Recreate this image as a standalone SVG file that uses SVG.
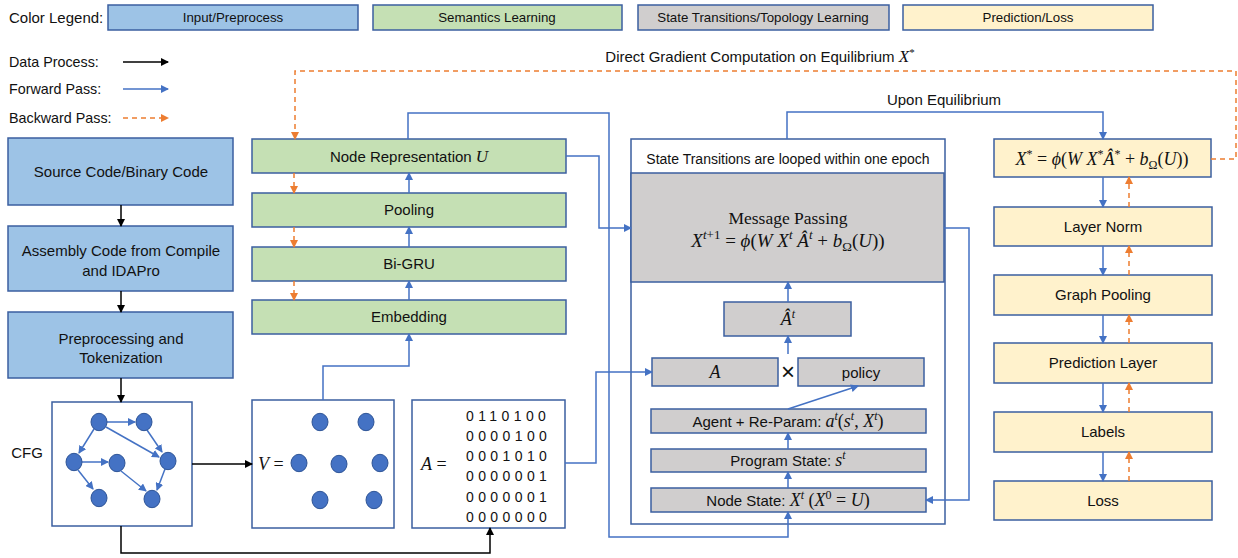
<svg xmlns="http://www.w3.org/2000/svg" width="1238" height="558" viewBox="0 0 1238 558">
<style>
.t{font-family:"Liberation Sans",Arial,sans-serif;font-size:15px;fill:#111;}
.lg{font-size:13.3px;}
.c{text-anchor:middle;}
.m{font-family:"Liberation Serif","Times New Roman",serif;font-style:italic;}
.r{font-family:"Liberation Serif","Times New Roman",serif;font-style:normal;}
.box{stroke:#3B5FA0;stroke-width:1.5;}
.blue{fill:#9DC3E6;}
.green{fill:#C5E0B4;}
.grey{fill:#D0CECE;}
.yellow{fill:#FFF2CC;}
.white{fill:#FFFFFF;}
.kl{fill:none;stroke:#000;stroke-width:1.5;marker-end:url(#ak);}
.bl{fill:none;stroke:#4472C4;stroke-width:1.5;marker-end:url(#ab);}
.bn{fill:none;stroke:#4472C4;stroke-width:1.5;}
.ol{fill:none;stroke:#ED7D31;stroke-width:1.5;stroke-dasharray:5,4;marker-end:url(#ao);}
.nd{fill:#4472C4;stroke:#2F5597;stroke-width:1;}
.mx{font-family:"Liberation Sans",Arial,sans-serif;font-size:14px;letter-spacing:4.4px;fill:#111;}
</style>
<defs>
<marker id="ak" markerWidth="8" markerHeight="8" refX="7" refY="4" orient="auto" markerUnits="userSpaceOnUse"><path d="M0,0 L8,4 L0,8 z" fill="#000"/></marker>
<marker id="ab" markerWidth="8" markerHeight="8" refX="7" refY="4" orient="auto" markerUnits="userSpaceOnUse"><path d="M0,0 L8,4 L0,8 z" fill="#4472C4"/></marker>
<marker id="ao" markerWidth="8" markerHeight="8" refX="7" refY="4" orient="auto" markerUnits="userSpaceOnUse"><path d="M0,0 L8,4 L0,8 z" fill="#ED7D31"/></marker>
</defs>
<rect width="1238" height="558" fill="#fff"/>

<g id="legend">
<text class="t" x="9" y="23">Color Legend:</text>
<rect class="box blue" x="108" y="5" width="250" height="25"/>
<text class="t c lg" x="233" y="22">Input/Preprocess</text>
<rect class="box green" x="373" y="5" width="249" height="25"/>
<text class="t c lg" x="497" y="22">Semantics Learning</text>
<rect class="box grey" x="638" y="5" width="251" height="25"/>
<text class="t c lg" x="763" y="22">State Transitions/Topology Learning</text>
<rect class="box yellow" x="903" y="5" width="250" height="25"/>
<text class="t c lg" x="1028" y="22">Prediction/Loss</text>
<text class="t" x="9" y="67" style="font-size:14.3px">Data Process:</text>
<text class="t" x="9" y="94" style="font-size:14.3px">Forward Pass:</text>
<text class="t" x="9" y="123" style="font-size:14.3px">Backward Pass:</text>
</g>

<g id="labels">
<text class="t c" x="760" y="62">Direct Gradient Computation on Equilibrium <tspan class="m" style="font-size:17px">X</tspan><tspan class="r" style="font-size:11px" dy="-6">*</tspan></text>
<text class="t c" x="944" y="105">Upon Equilibrium</text>
<text class="t c" x="27" y="458">CFG</text>
</g>

<g id="source">
<rect class="box blue" x="8" y="138" width="225" height="67"/>
<text class="t c" x="121" y="177">Source Code/Binary Code</text>
</g>
<g id="assembly">
<rect class="box blue" x="8" y="226" width="225" height="65"/>
<text class="t c" x="121" y="256">Assembly Code from Compile</text>
<text class="t c" x="121" y="276">and IDAPro</text>
</g>
<g id="preprocess">
<rect class="box blue" x="8" y="312" width="225" height="66"/>
<text class="t c" x="121" y="344">Preprocessing and</text>
<text class="t c" x="121" y="363">Tokenization</text>
</g>

<g id="cfg">
<rect class="box white" x="52" y="402" width="140" height="124"/>
<g class="bn" marker-end="url(#ab)">
<path d="M107,422 H135"/>
<path d="M94,429 L79,453"/>
<path d="M106,427 L159,457"/>
<path d="M147,430 L162,452"/>
<path d="M82,462 H108"/>
<path d="M78,470 L93,489"/>
<path d="M121,471 L146,491"/>
<path d="M165,469 L157,490"/>
</g>
<ellipse class="nd" cx="99" cy="422" rx="8" ry="8.7"/>
<ellipse class="nd" cx="144" cy="422" rx="8" ry="8.7"/>
<ellipse class="nd" cx="74" cy="462" rx="8" ry="8.7"/>
<ellipse class="nd" cx="117" cy="463" rx="8" ry="8.7"/>
<ellipse class="nd" cx="168" cy="461" rx="8" ry="8.7"/>
<ellipse class="nd" cx="99" cy="498" rx="8" ry="8.7"/>
<ellipse class="nd" cx="152" cy="499" rx="8" ry="8.7"/>
</g>

<g id="vset">
<rect class="box white" x="252" y="400" width="142" height="128"/>
<text class="r" x="258" y="470" style="font-size:18px" fill="#111"><tspan class="m">V</tspan> =</text>
<ellipse class="nd" cx="320" cy="422" rx="8" ry="8.7"/>
<ellipse class="nd" cx="366" cy="422" rx="8" ry="8.7"/>
<ellipse class="nd" cx="299" cy="463" rx="8" ry="8.7"/>
<ellipse class="nd" cx="339" cy="464" rx="8" ry="8.7"/>
<ellipse class="nd" cx="380" cy="463" rx="8" ry="8.7"/>
<ellipse class="nd" cx="320" cy="500" rx="8" ry="8.7"/>
<ellipse class="nd" cx="374" cy="500" rx="8" ry="8.7"/>
</g>

<g id="adj">
<rect class="box white" x="412" y="400" width="153" height="128"/>
<text class="r" x="421" y="470" style="font-size:18px" fill="#111"><tspan class="m">A</tspan> =</text>
<text class="mx" x="466" y="421">0110100</text>
<text class="mx" x="466" y="441">0000100</text>
<text class="mx" x="466" y="461">0001010</text>
<text class="mx" x="466" y="481">0000001</text>
<text class="mx" x="466" y="502">0000001</text>
<text class="mx" x="466" y="522">0000000</text>
</g>

<g id="noderep">
<rect class="box green" x="252" y="139" width="314" height="34"/>
<text class="t c" x="409" y="162">Node Representation <tspan class="m" style="font-size:17px">U</tspan></text>
</g>
<g id="pooling">
<rect class="box green" x="252" y="193" width="314" height="34"/>
<text class="t c" x="409" y="215">Pooling</text>
</g>
<g id="bigru">
<rect class="box green" x="252" y="247" width="314" height="34"/>
<text class="t c" x="409" y="269">Bi-GRU</text>
</g>
<g id="embedding">
<rect class="box green" x="252" y="300" width="314" height="34"/>
<text class="t c" x="409" y="322">Embedding</text>
</g>

<g id="statebox">
<rect class="box white" x="631" y="139" width="314" height="385"/>
<text class="t c" x="788" y="164" style="font-size:14px">State Transitions are looped within one epoch</text>
</g>
<g id="msgpass">
<rect class="box grey" x="631" y="173" width="313" height="109"/>
<text class="r c" x="788" y="224" style="font-size:17.5px" fill="#111">Message Passing</text>
<text class="r c" x="788" y="247" style="font-size:19px" fill="#111"><tspan class="m">X</tspan><tspan class="m" style="font-size:13px" dy="-8">t</tspan><tspan style="font-size:13px">+1</tspan><tspan dy="8"> = </tspan><tspan class="m">ϕ</tspan>(<tspan class="m">W X</tspan><tspan class="m" style="font-size:13px" dy="-8">t</tspan><tspan class="m" dy="8"> Â</tspan><tspan class="m" style="font-size:13px" dy="-8">t</tspan><tspan dy="8"> + </tspan><tspan class="m">b</tspan><tspan style="font-size:13px" dy="4">Ω</tspan><tspan dy="-4">(</tspan><tspan class="m">U</tspan>))</text>
</g>
<g id="ahat">
<rect class="box grey" x="724" y="302" width="127" height="34"/>
<text class="r c" x="788" y="325" style="font-size:18px" fill="#111"><tspan class="m">Â</tspan><tspan class="m" style="font-size:12px" dy="-7">t</tspan></text>
</g>
<g id="abox">
<rect class="box grey" x="652" y="358" width="126" height="28"/>
<text class="m c" x="715" y="378" style="font-size:18px" fill="#111">A</text>
</g>
<text class="t c" x="788" y="380" style="font-size:24px">×</text>
<g id="policy">
<rect class="box grey" x="798" y="358" width="126" height="28"/>
<text class="t c" x="861" y="378">policy</text>
</g>
<g id="agent">
<rect class="box grey" x="651" y="409" width="275" height="24"/>
<text class="t c" x="788" y="427">Agent + Re-Param: <tspan class="m" style="font-size:18px">a</tspan><tspan class="m" style="font-size:12px" dy="-7">t</tspan><tspan class="r" style="font-size:18px" dy="7">(</tspan><tspan class="m" style="font-size:18px">s</tspan><tspan class="m" style="font-size:12px" dy="-7">t</tspan><tspan class="r" style="font-size:18px" dy="7">, </tspan><tspan class="m" style="font-size:18px">X</tspan><tspan class="m" style="font-size:12px" dy="-7">t</tspan><tspan class="r" style="font-size:18px" dy="7">)</tspan></text>
</g>
<g id="progstate">
<rect class="box grey" x="651" y="449" width="275" height="23"/>
<text class="t c" x="788" y="466">Program State: <tspan class="m" style="font-size:18px">s</tspan><tspan class="m" style="font-size:12px" dy="-7">t</tspan></text>
</g>
<g id="nodestate">
<rect class="box grey" x="651" y="488" width="275" height="24"/>
<text class="t c" x="788" y="506">Node State: <tspan class="m" style="font-size:18px">X</tspan><tspan class="m" style="font-size:12px" dy="-7">t</tspan><tspan class="r" style="font-size:18px" dy="7"> (</tspan><tspan class="m" style="font-size:18px">X</tspan><tspan class="r" style="font-size:12px" dy="-7">0</tspan><tspan class="r" style="font-size:18px" dy="7"> = </tspan><tspan class="m" style="font-size:18px">U</tspan><tspan class="r" style="font-size:18px">)</tspan></text>
</g>

<g id="xstar">
<rect class="box yellow" x="994" y="139" width="217" height="38"/>
<text class="r c" x="1102" y="165" style="font-size:18px" fill="#111"><tspan class="m">X</tspan><tspan style="font-size:12px" dy="-7">*</tspan><tspan dy="7"> = </tspan><tspan class="m">ϕ</tspan>(<tspan class="m">W X</tspan><tspan style="font-size:12px" dy="-7">*</tspan><tspan class="m" dy="7">Â</tspan><tspan style="font-size:12px" dy="-7">*</tspan><tspan dy="7"> + </tspan><tspan class="m">b</tspan><tspan style="font-size:12px" dy="4">Ω</tspan><tspan dy="-4">(</tspan><tspan class="m">U</tspan>))</text>
</g>
<g id="layernorm">
<rect class="box yellow" x="994" y="207" width="218" height="39"/>
<text class="t c" x="1103" y="232">Layer Norm</text>
</g>
<g id="graphpool">
<rect class="box yellow" x="994" y="275" width="218" height="40"/>
<text class="t c" x="1103" y="300">Graph Pooling</text>
</g>
<g id="predlayer">
<rect class="box yellow" x="994" y="343" width="218" height="40"/>
<text class="t c" x="1103" y="368">Prediction Layer</text>
</g>
<g id="labelsbox">
<rect class="box yellow" x="994" y="412" width="218" height="40"/>
<text class="t c" x="1103" y="437">Labels</text>
</g>
<g id="loss">
<rect class="box yellow" x="994" y="481" width="218" height="39"/>
<text class="t c" x="1103" y="506">Loss</text>
</g>

<g id="connectors">
<path class="kl" d="M123,62 H168"/>
<path class="bl" d="M123,89 H168"/>
<path class="ol" d="M123,118 H168"/>
<path class="kl" d="M121,205 V226"/>
<path class="kl" d="M121,291 V312"/>
<path class="kl" d="M121,378 V402"/>
<path class="kl" d="M192,464 H252"/>
<path class="kl" d="M121,526 V553 H490 V528"/>
<path class="bl" d="M323,400 V366 H409 V334"/>
<path class="bl" d="M409,300 V281"/>
<path class="bl" d="M409,247 V227"/>
<path class="bl" d="M409,193 V173"/>
<path class="bl" d="M408,139 V113 H609 V537 H788 V512"/>
<path class="bl" d="M566,156 H599 V228 H631"/>
<path class="bl" d="M565,463 H596 V372 H652"/>
<path class="bl" d="M788,488 V472"/>
<path class="bl" d="M788,449 V433"/>
<path class="bl" d="M788,409 L858,386"/>
<path class="bl" d="M788,354 V336"/>
<path class="bl" d="M788,302 V282"/>
<path class="bl" d="M944,228 H969 V500 H926"/>
<path class="bl" d="M787,139 V112 H1103 V139"/>
<path class="bl" d="M1103,177 V207"/>
<path class="bl" d="M1103,246 V275"/>
<path class="bl" d="M1103,315 V343"/>
<path class="bl" d="M1103,383 V412"/>
<path class="bl" d="M1103,452 V481"/>
<path class="ol" d="M1211,159 H1236 V71 H295 V139"/>
<path class="ol" d="M294,173 V193"/>
<path class="ol" d="M294,227 V247"/>
<path class="ol" d="M294,281 V300"/>
<path class="ol" d="M1129,481 V452"/>
<path class="ol" d="M1129,412 V383"/>
<path class="ol" d="M1129,343 V315"/>
<path class="ol" d="M1129,275 V246"/>
<path class="ol" d="M1129,207 V177"/>
</g>
</svg>
